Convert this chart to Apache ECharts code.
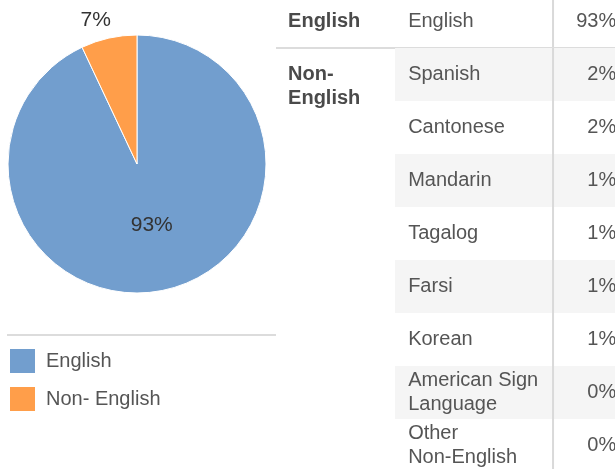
<!DOCTYPE html>
<html lang="en">
<head>
    <meta charset="utf-8">
    <title>Language spoken at home</title>
    <style>
* {
  margin: 0;
  padding: 0;
}
#chart-container {
  position: relative;
  width: 615px;
  height: 469px;
  overflow: hidden;
  background: #fff;
}
    </style>
</head>
<body>
<div id="chart-container"></div>
<script src="https://fastly.jsdelivr.net/npm/echarts@6/dist/echarts.min.js"></script>
<script>
// pie: share by group
const groups = ['English', 'Non- English'];
const groupShares = [93, 7];
const groupColors = ['#729ECE', '#FF9E4A'];

// table: share by language
const groupHeaders = ['English', 'Non-\nEnglish'];
const languages = ['English', 'Spanish', 'Cantonese', 'Mandarin', 'Tagalog', 'Farsi', 'Korean',
  'American Sign\nLanguage', 'Other\nNon-English'];
const languageGroup = [0, 1, 1, 1, 1, 1, 1, 1, 1];
const languageShares = [93, 2, 2, 1, 1, 1, 1, 0, 0];

var dom = document.getElementById('chart-container');
var myChart = echarts.init(dom, null, { renderer: 'canvas' });

const font = "'Liberation Sans', Arial, sans-serif";

// column layout of the table, in % of the table width
const colLangStart = 34.5;
const colLangText = 38.3;
const colDivider = 80.3;
const colValueRight = 98.6;
const colHeaderText = 3.5;

function renderTable(params, api) {
  const i = params.dataIndex;
  const rowH = api.size([0, 1])[1];
  const cy = api.coord([0, i])[1];
  const top = cy - rowH / 2;
  const x = v => api.coord([v, i])[0];
  const g = languageGroup[i];
  const children = [];

  // banded rows inside a group
  if (g === 1 && i % 2 === 1) {
    children.push({
      type: 'rect',
      shape: { x: x(colLangStart), y: top, width: x(100) - x(colLangStart), height: rowH },
      style: { fill: '#f5f5f5' }
    });
  }
  // column divider
  children.push({
    type: 'line',
    shape: { x1: x(colDivider), y1: top, x2: x(colDivider), y2: top + rowH },
    style: { stroke: '#d9d9d9', lineWidth: 2 }
  });
  // group separator
  if (i + 1 < languages.length && languageGroup[i + 1] !== g) {
    children.push({
      type: 'line',
      shape: { x1: x(0), y1: top + rowH, x2: x(100), y2: top + rowH },
      style: { stroke: '#dcdcdc', lineWidth: 2 }
    });
  }
  // group header on first row of the group
  if (i === 0 || languageGroup[i - 1] !== g) {
    children.push({
      type: 'text',
      style: {
        text: groupHeaders[g], x: x(colHeaderText), y: cy - 12,
        align: 'left', verticalAlign: 'top', lineHeight: 24,
        font: 'bold 20px ' + font, fill: '#4a4a4a'
      }
    });
  }
  children.push({
    type: 'text',
    style: {
      text: languages[i], x: x(colLangText), y: cy,
      align: 'left', verticalAlign: 'middle', lineHeight: 24,
      font: '20px ' + font, fill: '#555'
    }
  });
  children.push({
    type: 'text',
    style: {
      text: api.value(1) + '%', x: x(colValueRight), y: cy,
      align: 'right', verticalAlign: 'middle',
      font: '20px ' + font, fill: '#555'
    }
  });
  return { type: 'group', children: children };
}

var option = {
  animation: false,
  textStyle: { fontFamily: font },
  legend: {
    orient: 'vertical',
    left: 8,
    top: 347,
    padding: 0,
    itemWidth: 27,
    itemHeight: 26,
    itemGap: 10,
    icon: 'rect',
    data: groups,
    textStyle: { fontSize: 20, color: '#555', fontFamily: font, padding: [0, 0, 0, 5] }
  },
  graphic: [{
    type: 'line',
    shape: { x1: 7, y1: 335, x2: 276, y2: 335 },
    style: { stroke: '#dcdcdc', lineWidth: 2 }
  }],
  grid: {
    left: 276, top: -5, width: 345, height: 477,
    outerBoundsMode: 'none'
  },
  xAxis: { type: 'value', min: 0, max: 100, show: false },
  yAxis: { type: 'category', inverse: true, data: languages, show: false },
  series: [
    {
      type: 'pie',
      center: [137, 164],
      radius: 129,
      startAngle: 90,
      clockwise: true,
      itemStyle: { borderColor: '#fff', borderWidth: 1 },
      emphasis: { disabled: true },
      data: groups.map((name, k) => {
        const item = { name: name, value: groupShares[k], itemStyle: { color: groupColors[k] } };
        if (k === 0) {
          item.label = { position: 'inside', fontSize: 21, color: '#333', offset: [0, -5] };
        } else {
          item.label = { position: 'outside', fontSize: 21, color: '#333', offset: [11, 0] };
          item.labelLine = { show: false, length: 18, length2: 0 };
        }
        return item;
      }),
      label: { formatter: p => p.value + '%', fontFamily: font }
    },
    {
      type: 'custom',
      renderItem: renderTable,
      encode: { y: 0 },
      data: languages.map((l, k) => [k, languageShares[k]])
    }
  ]
};

myChart.setOption(option);
window.addEventListener('resize', myChart.resize);
</script>
</body>
</html>
